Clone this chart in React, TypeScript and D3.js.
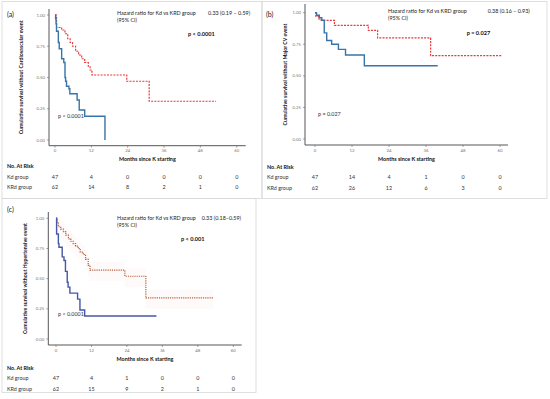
import React from "react";
import * as d3 from "d3";

// ---------- data ----------
const xTicks = [0, 12, 24, 36, 48, 60];
const yTicks = [0, 0.25, 0.5, 0.75, 1];
const yTickLabels = ["0.00", "0.25", "0.50", "0.75", "1.00"];

// Panel (a): cardiovascular event
const aKdTime = [0, 0.2, 0.35, 0.5, 1.1, 1.4, 2.2, 2.9, 3.3, 3.5, 3.8, 4.6, 4.9, 7.3, 8.0, 9.8, 16.5];
const aKdSurv = [1, 0.97, 0.93, 0.87, 0.78, 0.73, 0.65, 0.62, 0.5, 0.47, 0.43, 0.41, 0.37, 0.32, 0.24, 0.19, 0];
const aKdEnd = 16.5;
const aKrdTime = [0, 0.5, 2.2, 3.3, 4.2, 5.0, 5.8, 6.8, 7.8, 8.8, 9.8, 11.0, 11.6, 12.2, 23.7, 31.1];
const aKrdSurv = [1, 0.9, 0.88, 0.85, 0.81, 0.78, 0.75, 0.71, 0.68, 0.65, 0.62, 0.59, 0.56, 0.52, 0.47, 0.31];
const aKrdEnd = 53.2;
const aRiskKd = ["47", "4", "0", "0", "0", "0"];
const aRiskKrd = ["62", "14", "8", "2", "1", "0"];

// Panel (b): major CV event
const bKdTime = [0, 0.5, 1.4, 2.2, 3.0, 3.8, 5.4, 7.6, 9.9, 16.0];
const bKdSurv = [1, 0.98, 0.96, 0.94, 0.84, 0.78, 0.75, 0.71, 0.665, 0.58];
const bKdEnd = 39.8;
const bKrdTime = [0, 0.3, 1.2, 2.0, 6.3, 17.3, 20.3, 37.5];
const bKrdSurv = [1, 0.97, 0.95, 0.94, 0.9, 0.86, 0.8, 0.66];
const bKrdEnd = 60.8;
const bRiskKd = ["47", "14", "4", "1", "0", "0"];
const bRiskKrd = ["62", "26", "12", "6", "3", "0"];

// Panel (c): hypertensive event
const cKdTime = [0, 0.2, 0.8, 1.0, 2.1, 2.7, 3.2, 3.8, 4.1, 4.7, 7.3, 8.1, 9.7];
const cKdSurv = [1, 0.87, 0.79, 0.76, 0.68, 0.65, 0.56, 0.47, 0.43, 0.38, 0.33, 0.24, 0.19];
const cKdEnd = 34.0;
const cKrdTime = [0, 0.4, 0.8, 1.6, 2.5, 3.3, 4.2, 5.0, 5.8, 6.6, 7.5, 8.2, 9.2, 10.0, 10.9, 11.5, 23.3, 30.4];
const cKrdSurv = [1, 0.96, 0.93, 0.91, 0.89, 0.86, 0.83, 0.81, 0.79, 0.77, 0.75, 0.72, 0.7, 0.66, 0.61, 0.57, 0.52, 0.34];
const cKrdEnd = 53.2;
const cRiskKd = ["47", "4", "1", "0", "0", "0"];
const cRiskKrd = ["62", "15", "9", "2", "1", "0"];

const FONT = "Lato, 'Open Sans', sans-serif";

type PanelProps = {
  label: string;
  labelX: number;
  labelY: number;
  xr: [number, number];
  yr: [number, number];
  yAxisX: number;
  xAxisY: number;
  yTop: number;
  xEnd: number;
  yTitle: string;
  yTitleX: number;
  hrX: number;
  hrY: number;
  hrVal: string;
  hrValX: number;
  pBold: string;
  pBoldX: number;
  pBoldY: number;
  pPlain: string;
  pPlainX: number;
  pPlainY: number;
  riskX: number;
  riskY: number;
  kdT: number[];
  kdS: number[];
  kdEnd: number;
  krdT: number[];
  krdS: number[];
  krdEnd: number;
  riskKd: string[];
  riskKrd: string[];
  blue: string;
  red: string;
  redDash: string;
  band?: boolean;
};

function stepPts(t: number[], s: number[], end: number): [number, number][] {
  const pts: [number, number][] = t.map((v, i) => [v, s[i]]);
  pts.push([end, s[s.length - 1]]);
  return pts;
}

function Panel(p: PanelProps) {
  const x = d3.scaleLinear().domain([0, 60]).range(p.xr);
  const y = d3.scaleLinear().domain([0, 1]).range(p.yr);
  const line = d3
    .line<[number, number]>()
    .x((d) => x(d[0]))
    .y((d) => y(d[1]))
    .curve(d3.curveStepAfter);
  const kd = stepPts(p.kdT, p.kdS, p.kdEnd);
  const krd = stepPts(p.krdT, p.krdS, p.krdEnd);
  const area = d3
    .area<[number, number]>()
    .x((d) => x(d[0]))
    .y0((d) => y(Math.max(0, d[1] - 0.09)))
    .y1((d) => y(Math.min(1, d[1] + 0.07)))
    .curve(d3.curveStepAfter);
  const titleCx = (p.yAxisX + p.xEnd) / 2;
  const yMid = (p.yTop + p.xAxisY) / 2;
  return (
    <g fontFamily={FONT}>
      <text x={p.labelX} y={p.labelY} fontSize={7} fill="#222">{p.label}</text>
      {p.band && <path d={area(krd) || ""} fill="#f6d4d4" opacity={0.12} />}
      {/* axes */}
      <line x1={p.yAxisX} x2={p.yAxisX} y1={p.yTop} y2={p.xAxisY} stroke="#444" strokeWidth={0.9} />
      <line x1={p.yAxisX} x2={p.xEnd} y1={p.xAxisY} y2={p.xAxisY} stroke="#444" strokeWidth={0.9} />
      {yTicks.map((v, i) => (
        <g key={"y" + i}>
          <line x1={p.yAxisX - 2} x2={p.yAxisX} y1={y(v)} y2={y(v)} stroke="#666" strokeWidth={0.6} />
          <text x={p.yAxisX - 4} y={y(v) + 1.5} fontSize={4.3} fill="#777" textAnchor="end">{yTickLabels[i]}</text>
        </g>
      ))}
      {xTicks.map((v) => (
        <g key={"x" + v}>
          <line x1={x(v)} x2={x(v)} y1={p.xAxisY} y2={p.xAxisY + 2} stroke="#666" strokeWidth={0.6} />
          <text x={x(v)} y={p.xAxisY + 6.5} fontSize={4.3} fill="#777" textAnchor="middle">{v}</text>
        </g>
      ))}
      <text x={titleCx} y={p.xAxisY + 15.5} fontSize={5.4} fontWeight="bold" fill="#111" textAnchor="middle">Months since K starting</text>
      <text transform={`translate(${p.yTitleX},${yMid}) rotate(-90)`} fontSize={5.2} fontWeight="bold" fill="#111" textAnchor="middle">{p.yTitle}</text>
      {/* curves */}
      <path d={line(krd) || ""} fill="none" stroke={p.red} strokeWidth={1.2} strokeDasharray={p.redDash} />
      <path d={line(kd) || ""} fill="none" stroke={p.blue} strokeWidth={1.4} />
      {/* annotations */}
      <text x={p.hrX} y={p.hrY} fontSize={5.4} fill="#222">Hazard ratio for Kd vs KRD group</text>
      <text x={p.hrX} y={p.hrY + 7.3} fontSize={5.4} fill="#222">(95% CI)</text>
      <text x={p.hrValX} y={p.hrY} fontSize={5.4} fill="#222">{p.hrVal}</text>
      <text x={p.pBoldX} y={p.pBoldY} fontSize={5.6} fontWeight="bold" fill="#111">{p.pBold}</text>
      <text x={p.pPlainX} y={p.pPlainY} fontSize={5.4} fill="#333">{p.pPlain}</text>
      {/* risk table */}
      <text x={p.riskX} y={p.riskY} fontSize={5.4} fontWeight="bold" fill="#111">No. At Risk</text>
      <text x={p.riskX} y={p.riskY + 10.5} fontSize={5.4} fill="#333">Kd group</text>
      <text x={p.riskX} y={p.riskY + 21} fontSize={5.4} fill="#333">KRd group</text>
      {xTicks.map((v, i) => (
        <g key={"r" + v}>
          <text x={x(v)} y={p.riskY + 10.5} fontSize={5.4} fill="#333" textAnchor="middle">{p.riskKd[i]}</text>
          <text x={x(v)} y={p.riskY + 21} fontSize={5.4} fill="#333" textAnchor="middle">{p.riskKrd[i]}</text>
        </g>
      ))}
    </g>
  );
}

export default function App() {
  return (
    <svg
      width={550}
      height={399}
      style={{ position: "absolute", left: 0, top: 0, background: "#fff" }}
    >
      <rect x={0} y={0} width={550} height={399} fill="#fff" />
      {/* panel frames */}
      <rect x={2} y={1.5} width={260} height={197} fill="none" stroke="#d8d8d8" strokeWidth={0.8} />
      <rect x={262} y={1.5} width={285} height={197} fill="none" stroke="#d8d8d8" strokeWidth={0.8} />
      <rect x={2} y={198.5} width={254} height={194} fill="none" stroke="#d8d8d8" strokeWidth={0.8} />

      <Panel
        label="(a)" labelX={7} labelY={17}
        xr={[55, 236.7]} yr={[140, 15]}
        yAxisX={49} xAxisY={145.7} yTop={9} xEnd={245.7}
        yTitle="Cumulative survival without Cardiovascular event" yTitleX={22.5}
        hrX={117} hrY={15} hrVal="0.33 (0.19 – 0.59)" hrValX={208}
        pBold="p < 0.0001" pBoldX={188} pBoldY={36}
        pPlain="p < 0.0001" pPlainX={58} pPlainY={118}
        riskX={7} riskY={168}
        kdT={aKdTime} kdS={aKdSurv} kdEnd={aKdEnd}
        krdT={aKrdTime} krdS={aKrdSurv} krdEnd={aKrdEnd}
        riskKd={aRiskKd} riskKrd={aRiskKrd}
        blue="#3874a8" red="#e8393a" redDash="2,1.2"
      />
      <Panel
        label="(b)" labelX={266} labelY={17}
        xr={[315, 500]} yr={[139, 12.7]}
        yAxisX={305} xAxisY={145} yTop={4} xEnd={508}
        yTitle="Cumulative survival without Major CV event" yTitleX={286.5}
        hrX={388} hrY={13} hrVal="0.38 (0.16 – 0.93)" hrValX={487.7}
        pBold="p = 0.027" pBoldX={466.7} pBoldY={35}
        pPlain="p = 0.027" pPlainX={318} pPlainY={116}
        riskX={267} riskY={168.5}
        kdT={bKdTime} kdS={bKdSurv} kdEnd={bKdEnd}
        krdT={bKrdTime} krdS={bKrdSurv} krdEnd={bKrdEnd}
        riskKd={bRiskKd} riskKrd={bRiskKrd}
        blue="#3874a8" red="#e8393a" redDash="2,1.2"
      />
      <Panel
        label="(c)" labelX={7} labelY={212}
        xr={[56, 233.3]} yr={[339, 218.3]}
        yAxisX={48.3} xAxisY={345} yTop={212} xEnd={241.7}
        yTitle="Cumulative survival without Hypertensive event" yTitleX={26.5}
        hrX={117} hrY={219.5} hrVal="0.33 (0.18–0.59)" hrValX={201.7}
        pBold="p < 0.001" pBoldX={181} pBoldY={240.5}
        pPlain="p < 0.0001" pPlainX={58} pPlainY={315.5}
        riskX={7} riskY={369.5}
        kdT={cKdTime} kdS={cKdSurv} kdEnd={cKdEnd}
        krdT={cKrdTime} krdS={cKrdSurv} krdEnd={cKrdEnd}
        riskKd={cRiskKd} riskKrd={cRiskKrd}
        blue="#4657a6" red="#b8603e" redDash="1.2,1" band
      />
    </svg>
  );
}
